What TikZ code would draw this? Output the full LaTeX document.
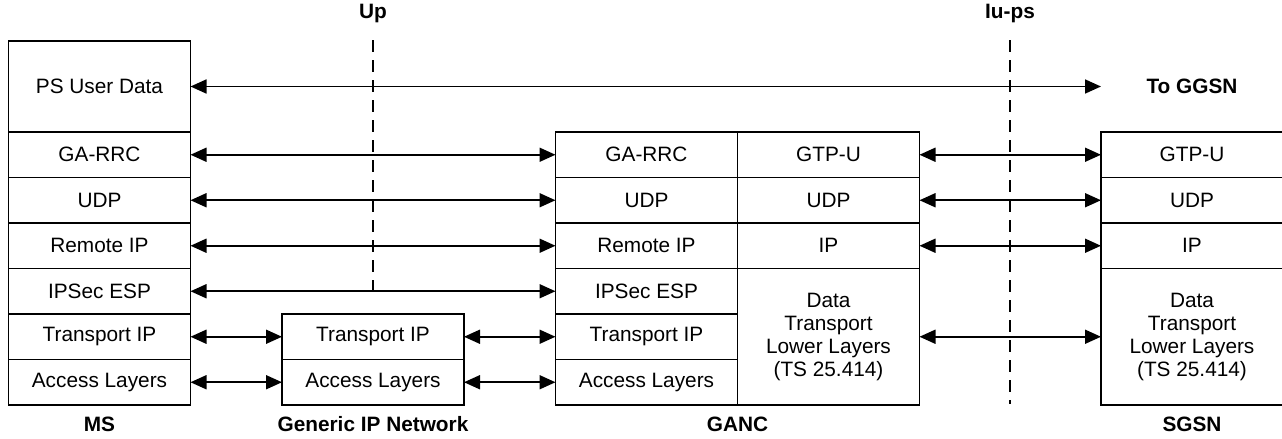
\documentclass[tikz,border=0pt]{standalone}
\usepackage{fontspec}
\setmainfont{Liberation Sans}
\usetikzlibrary{arrows.meta,positioning}

\begin{document}
\begin{tikzpicture}[x=0.5pt, y=-0.5pt,
  layer/.style={draw, line width=0.9pt, minimum width=91pt, minimum height=22.75pt,
    inner sep=0pt, outer sep=0pt, font=\fontsize{10.4}{11.5}\selectfont, align=center},
  tall/.style={minimum height=45.5pt},
  lowest/.style={minimum height=68.25pt},
  title/.style={font=\fontsize{10.4}{12}\selectfont\bfseries, inner sep=0pt},
  link/.style={draw, line width=0.9pt,
    {Triangle[length=8pt,width=7pt]}-{Triangle[length=8pt,width=7pt]}},
  iface/.style={draw, line width=0.8pt, dash pattern=on 6pt off 4pt},
]
\useasboundingbox (0,0) rectangle (1282,439);

\coordinate (up-top) at (373,40);
\coordinate (up-bot) at (373,296);
\coordinate (iu-top) at (1010,40);
\coordinate (iu-bot) at (1010,404);
\draw[iface] (up-top) -- (up-bot);
\draw[iface] (iu-top) -- (iu-bot);

\node[layer, tall] (ms-ps) at (99.5,86.5) {PS User Data};
\node[layer, below=0pt of ms-ps] (ms-rrc) {GA-RRC};
\node[layer, below=0pt of ms-rrc] (ms-udp) {UDP};
\node[layer, below=0pt of ms-udp] (ms-rip) {Remote IP};
\node[layer, below=0pt of ms-rip] (ms-esp) {IPSec ESP};
\node[layer, below=0pt of ms-esp] (ms-tip) {Transport IP};
\node[layer, below=0pt of ms-tip] (ms-acc) {Access Layers};

\node[layer] (gen-tip) at (373,336.75) {Transport IP};
\node[layer, below=0pt of gen-tip] (gen-acc) {Access Layers};

\node[layer] (ganc-rrc) at (646.5,154.75) {GA-RRC};
\node[layer, below=0pt of ganc-rrc] (ganc-udp) {UDP};
\node[layer, below=0pt of ganc-udp] (ganc-rip) {Remote IP};
\node[layer, below=0pt of ganc-rip] (ganc-esp) {IPSec ESP};
\node[layer, below=0pt of ganc-esp] (ganc-tip) {Transport IP};
\node[layer, below=0pt of ganc-tip] (ganc-acc) {Access Layers};
\node[layer, right=0pt of ganc-rrc] (ganc-gtp) {GTP-U};
\node[layer, below=0pt of ganc-gtp] (ganc-udp2) {UDP};
\node[layer, below=0pt of ganc-udp2] (ganc-ip) {IP};
\node[layer, lowest, below=0pt of ganc-ip] (ganc-dtl) {Data\\Transport\\Lower Layers\\(TS 25.414)};

\node[layer] (sgsn-gtp) at (1192,154.75) {GTP-U};
\node[layer, below=0pt of sgsn-gtp] (sgsn-udp) {UDP};
\node[layer, below=0pt of sgsn-udp] (sgsn-ip) {IP};
\node[layer, lowest, below=0pt of sgsn-ip] (sgsn-dtl) {Data\\Transport\\Lower Layers\\(TS 25.414)};

\node[title] (up) at (373,14) {Up};
\node[title] (iups) at (1010,14) {Iu-ps};
\node[title] (ggsn) at (1192,86.5) {To GGSN};
\node[title] (ms) at (99.5,424) {MS};
\node[title] (gen) at (373,424) {Generic IP Network};
\node[title] (ganc) at (737.5,424) {GANC};
\node[title] (sgsn) at (1192,424) {SGSN};

\coordinate (ggsn-end) at (1101,86.5);
\draw[link] (ms-ps) -- (ggsn-end);
\draw[link] (ms-rrc) -- (ganc-rrc);
\draw[link] (ms-udp) -- (ganc-udp);
\draw[link] (ms-rip) -- (ganc-rip);
\draw[link] (ms-esp) -- (ganc-esp);
\draw[link] (ms-tip) -- (gen-tip);
\draw[link] (ms-acc) -- (gen-acc);
\draw[link] (gen-tip) -- (ganc-tip);
\draw[link] (gen-acc) -- (ganc-acc);
\draw[link] (ganc-gtp) -- (sgsn-gtp);
\draw[link] (ganc-udp2) -- (sgsn-udp);
\draw[link] (ganc-ip) -- (sgsn-ip);
\draw[link] (ganc-dtl) -- (sgsn-dtl);
\end{tikzpicture}
\end{document}
